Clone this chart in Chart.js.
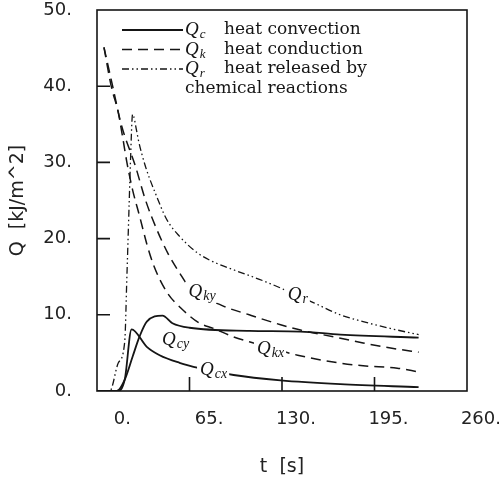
<!DOCTYPE html>
<html>
<head>
<meta charset="utf-8">
<script src="https://cdn.jsdelivr.net/npm/chart.js@4.4.0/dist/chart.umd.min.js"></script>
<style>
  html, body { margin: 0; padding: 0; background: #fff; }
</style>
</head>
<body>
<canvas id="chart" width="503" height="485"></canvas>
<script>
// số liệu: t [s] và Q [kJ/m^2]
const tQcx = [0, 14, 19.5, 24.3, 35, 44, 58, 72, 96, 129, 171, 226];
const qQcx = [0, 0, 1.5, 8.1, 5.8, 4.7, 3.7, 3.0, 2.1, 1.4, 0.9, 0.5];

const tQcy = [0, 14, 19.5, 25, 30, 35, 46, 53, 65, 107, 143, 171, 226];
const qQcy = [0, 0, 1.5, 4.5, 7.2, 9.1, 9.9, 8.9, 8.3, 7.9, 7.8, 7.4, 7.0];

const tQkx = [4.9, 10, 15, 18.3, 21, 25, 30, 35, 40, 49, 60, 72, 82, 96, 110, 141, 166, 187, 211, 226];
const qQkx = [45.1, 40, 36.5, 33, 30, 26.4, 22.9, 19.3, 16.4, 13.0, 10.7, 8.9, 8.2, 7.1, 6.3, 4.7, 3.8, 3.3, 3.0, 2.5];

const tQky = [4.9, 11, 17, 27, 34, 42, 50, 58, 65, 88, 107, 129, 143, 169, 187, 211, 226];
const qQky = [45.1, 40, 35, 29.5, 25.1, 21.2, 18.0, 15.5, 13.6, 11.2, 10, 8.7, 8.0, 7.0, 6.3, 5.5, 5.1];

const tQr = [0, 9, 15, 19.5, 21, 22.5, 23.5, 25, 28, 29, 34, 42, 49, 58, 70, 80, 96, 119, 152, 171, 187, 211, 226];
const qQr = [0, 0, 3.7, 6.5, 15, 24, 30, 36.3, 34, 33, 29.5, 25.5, 22.5, 20.3, 18.2, 17.1, 15.9, 14.3, 11.6, 10, 9.1, 8.0, 7.4];

// nhãn trên đường cong: [chữ chính, chỉ số dưới, t, Q]
const curveLabels = [
  ["Q", "ky", 64.3, 12.4],
  ["Q", "r", 134, 12.0],
  ["Q", "cy", 45.7, 6.0],
  ["Q", "kx", 112.4, 4.9],
  ["Q", "cx", 72.4, 2.1],
];

// chú thích
const legendRows = [
  ["c", "heat convection"],
  ["k", "heat conduction"],
  ["r", "heat released by"],
];
const legendExtra = "chemical reactions";

const ink = "#151515";
const dashK = [10, 6];
const dashR = [7, 3, 1.5, 3, 1.5, 3];

function toPoints(ts, qs) {
  return ts.map((t, i) => ({ x: t, y: qs[i] }));
}

function lineSet(label, ts, qs, dash, width) {
  return {
    label: label,
    data: toPoints(ts, qs),
    borderColor: ink,
    borderWidth: width,
    borderDash: dash,
    pointRadius: 0,
    fill: false,
    cubicInterpolationMode: "monotone",
  };
}

const tickFont = { family: "DejaVu Sans", size: 18 };

// vẽ khung, vạch chia, chú thích và nhãn đường cong
const decorPlugin = {
  id: "decor",
  afterDatasetsDraw(chart) {
    const { ctx, scales: { x, y } } = chart;
    ctx.save();
    ctx.textBaseline = "alphabetic";
    for (const [main, sub, t, q] of curveLabels) {
      const px = x.getPixelForValue(t);
      const py = y.getPixelForValue(q);
      ctx.font = "italic 19px 'Liberation Serif'";
      const w1 = ctx.measureText(main).width;
      ctx.font = "italic 14px 'Liberation Serif'";
      const w2 = ctx.measureText(sub).width;
      ctx.fillStyle = "#fff";
      ctx.fillRect(px - 3, py - 15, w1 + w2 + 6, 21);
      ctx.fillStyle = ink;
      ctx.font = "italic 19px 'Liberation Serif'";
      ctx.fillText(main, px, py);
      ctx.font = "italic 14px 'Liberation Serif'";
      ctx.fillText(sub, px + w1 + 1, py + 3);
    }
    ctx.restore();
  },
  afterDraw(chart) {
    const { ctx, chartArea: a, scales: { x, y } } = chart;
    ctx.save();
    ctx.strokeStyle = ink;
    ctx.lineWidth = 1.6;
    ctx.strokeRect(a.left, a.top, a.right - a.left, a.bottom - a.top);
    ctx.beginPath();
    y.ticks.forEach((tk) => {
      if (tk.value <= y.min || tk.value >= y.max) return;
      const py = y.getPixelForValue(tk.value);
      ctx.moveTo(a.left, py);
      ctx.lineTo(a.left + 13, py);
    });
    x.ticks.forEach((tk) => {
      if (tk.value <= x.min || tk.value >= x.max) return;
      const px = x.getPixelForValue(tk.value);
      ctx.moveTo(px, a.bottom);
      ctx.lineTo(px, a.bottom - 14);
    });
    ctx.stroke();

    // chú thích
    const dashes = [[], dashK, dashR];
    const widths = [1.8, 1.5, 1.3];
    legendRows.forEach((row, i) => {
      const ly = a.top + 20 + i * 19.5;
      ctx.beginPath();
      ctx.setLineDash(dashes[i]);
      ctx.lineWidth = widths[i];
      ctx.moveTo(a.left + 25, ly);
      ctx.lineTo(a.left + 86, ly);
      ctx.stroke();
      ctx.setLineDash([]);
      ctx.fillStyle = ink;
      ctx.font = "italic 19px 'Liberation Serif'";
      ctx.fillText("Q", a.left + 88, ly + 5);
      const wq = ctx.measureText("Q").width;
      ctx.font = "italic 13px 'Liberation Serif'";
      ctx.fillText(row[0], a.left + 88 + wq + 1, ly + 8);
      ctx.font = "17px 'DejaVu Serif'";
      ctx.fillText(row[1], a.left + 127, ly + 4);
    });
    ctx.font = "17px 'DejaVu Serif'";
    ctx.fillText(legendExtra, a.left + 88, a.top + 20 + 3 * 19.5 + 4);
    ctx.restore();
  },
};

new Chart(document.getElementById("chart"), {
  type: "line",
  data: {
    datasets: [
      lineSet("Qcx", tQcx, qQcx, [], 1.8),
      lineSet("Qcy", tQcy, qQcy, [], 1.8),
      lineSet("Qkx", tQkx, qQkx, dashK, 1.5),
      lineSet("Qky", tQky, qQky, dashK, 1.5),
      lineSet("Qr", tQr, qQr, dashR, 1.3),
    ],
  },
  options: {
    responsive: false,
    animation: false,
    layout: { padding: { top: 10, right: 36, left: 0, bottom: 0 } },
    plugins: { legend: { display: false }, tooltip: { enabled: false } },
    scales: {
      x: {
        type: "linear",
        min: 0,
        max: 260,
        grid: { display: false, drawTicks: false },
        border: { display: false },
        ticks: {
          stepSize: 65,
          autoSkip: false,
          maxRotation: 0,
          align: "end",
          labelOffset: 34,
          padding: 18,
          color: "#222",
          font: tickFont,
          callback: (v) => v + ".",
        },
        title: {
          display: true,
          text: "t  [s]",
          color: "#222",
          font: { family: "DejaVu Sans", size: 19 },
          padding: { top: 0, bottom: 7 },
        },
        afterFit: (s) => { s.height = 94; },
      },
      y: {
        min: 0,
        max: 50,
        grid: { display: false, drawTicks: false },
        border: { display: false },
        ticks: {
          stepSize: 10,
          padding: 25,
          color: "#222",
          font: tickFont,
          callback: (v) => v + ".",
        },
        title: {
          display: true,
          text: "Q  [kJ/m^2]",
          color: "#222",
          font: { family: "DejaVu Sans", size: 19 },
          padding: { top: 7, bottom: 0 },
        },
        afterFit: (s) => {
          s.width = 97;
          s.paddingTop = 0;
          s.paddingBottom = 0;
        },
      },
    },
  },
  plugins: [decorPlugin],
});
</script>
</body>
</html>
